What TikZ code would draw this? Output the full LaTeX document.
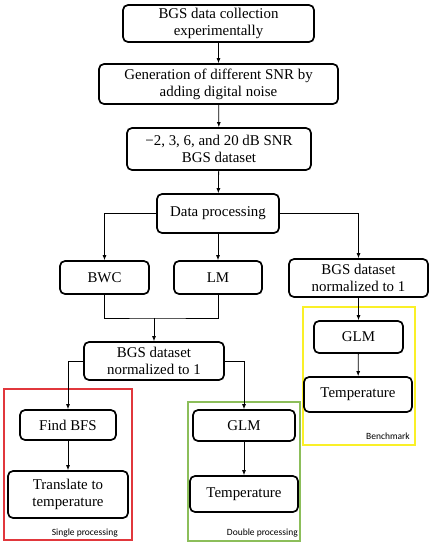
\documentclass[tikz,border=0pt]{standalone}
\usepackage{fontspec}
\setmainfont{Liberation Serif}
\newfontfamily\labelfont{Carlito}
\usetikzlibrary{positioning,calc}
\usetikzlibrary{arrows.meta}
\definecolor{FrameRed}{RGB}{225,55,60}
\definecolor{FrameGreen}{RGB}{140,190,90}
\definecolor{FrameYellow}{RGB}{250,240,40}
\tikzset{
	stepbox/.style={draw=black,line width=1.7pt,rounded corners=5pt,fill=white,align=center,
		inner sep=2pt,font=\fontsize{14.9}{17}\selectfont},
	flow/.style={draw=black,line width=0.8pt,-{Latex[length=5pt,width=4pt]}},
	link/.style={draw=black,line width=0.8pt},
	frame/.style={line width=1.2pt},
	tag/.style={font=\labelfont\fontsize{9.5}{10}\selectfont,anchor=south east,inner sep=0pt},
}

\begin{document}
\begin{tikzpicture}[x=1pt,y=-1pt]
	\useasboundingbox (0,0) rectangle (435,550);
	% processing frames
	\draw[frame,draw=FrameRed] (4,389) rectangle (132,540);
	\draw[frame,draw=FrameGreen] (188,402) rectangle (300,541);
	\draw[frame,draw=FrameYellow] (303,307) rectangle (415,445);
	\node[tag] (single) at (118,537) {Single processing};
	\node[tag] (double) at (298,537) {Double processing};
	\node[tag] (bench) at (410,440) {Benchmark};
	% main chain
	\node[stepbox,minimum width=191pt,minimum height=37pt] (collect) at (218.5,23.5) {BGS data collection\\experimentally};
	\node[stepbox,minimum width=239pt,minimum height=40pt] (noise) at (218.5,84) {Generation of different SNR by\\adding digital noise};
	\node[stepbox,minimum width=184pt,minimum height=42pt] (snr) at (219,149) {−2, 3, 6, and 20 dB SNR\\BGS dataset};
	\node[stepbox,minimum width=122pt,minimum height=39pt] (proc) at (218,213.5) {Data processing};
	\node[stepbox,minimum width=89pt,minimum height=33pt] (bwc) at (104.5,277.5) {BWC};
	\node[stepbox,minimum width=88pt,minimum height=33pt] (lm) at (218,277.5) {LM};
	\node[stepbox,minimum width=139pt,minimum height=38pt] (normR) at (358.5,278) {BGS dataset\\normalized to 1};
	\node[stepbox,minimum width=89pt,minimum height=32pt] (glmR) at (358.5,337) {GLM};
	\node[stepbox,minimum width=108pt,minimum height=35pt] (tempR) at (358,394.5) {Temperature};
	\coordinate (merge) at (154,318);
	\node[stepbox,minimum width=140pt,minimum height=38pt] (normM) at (154,361) {BGS dataset\\normalized to 1};
	\node[stepbox,minimum width=96pt,minimum height=30pt] (bfs) at (68,425) {Find BFS};
	\node[stepbox,minimum width=120pt,minimum height=47pt] (trans) at (68,494.5) {Translate to\\temperature};
	\node[stepbox,minimum width=102pt,minimum height=31pt] (glmM) at (244,425.5) {GLM};
	\node[stepbox,minimum width=108pt,minimum height=36pt] (tempM) at (244,494) {Temperature};
	% connectors
	\draw[flow] (collect) -- (noise);
	\draw[flow] (noise) -- (snr);
	\draw[flow] (snr) -- (proc);
	\draw[flow] (proc.west) -| (bwc.north);
	\draw[flow] (proc) -- (lm);
	\draw[flow] (proc.east) -| (normR.north);
	\draw[link] (bwc.south) |- (merge) -| (lm.south);
	\draw[flow] (merge) -- (normM.north);
	\draw[flow] (normR) -- (glmR);
	\draw[flow] (glmR) -- (tempR);
	\draw[flow] (normM.west) -| (bfs.north);
	\draw[flow] (normM.east) -| (glmM.north);
	\draw[flow] (bfs) -- (trans);
	\draw[flow] (glmM) -- (tempM);
\end{tikzpicture}
\end{document}
